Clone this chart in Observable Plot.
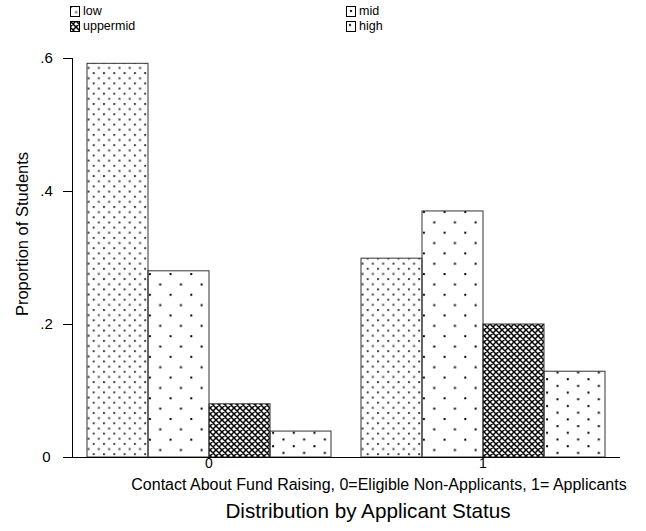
<!DOCTYPE html>
<html><head><meta charset="utf-8">
<script src="https://cdn.jsdelivr.net/npm/d3@7"></script>
<script src="https://cdn.jsdelivr.net/npm/@observablehq/plot@0.6"></script>
<style>
body{margin:0;background:#fff;}
#wrap{position:relative;width:646px;height:531px;font-family:"Liberation Sans",Arial,sans-serif;color:#000;background:#fff;overflow:hidden;}
.ov{position:absolute;white-space:nowrap;line-height:1;}
.leg{position:absolute;display:flex;align-items:center;font-size:12.5px;line-height:12px;height:12px;}
.leg svg{margin-right:3px;}
</style></head><body>
<svg width="0" height="0" style="position:absolute">
 <defs>
  <pattern id="pat-low" patternUnits="userSpaceOnUse" width="10.3" height="10.3">
   <rect x="0" y="0" width="2" height="2" fill="#444"/>
   <rect x="5.15" y="5.15" width="2" height="2" fill="#444"/>
  </pattern>
  <pattern id="pat-mid" patternUnits="userSpaceOnUse" width="20.7" height="20.7">
   <rect x="4" y="4" width="2" height="2" fill="#000"/>
   <rect x="14.35" y="14.35" width="2" height="2" fill="#000"/>
  </pattern>
  <pattern id="pat-uppermid" patternUnits="userSpaceOnUse" width="6" height="6">
   <path d="M0,0L6,6M6,0L0,6M-1,5L1,7M5,-1L7,1M-1,1L1,-1M5,7L7,5" stroke="#000" stroke-width="1.5"/>
  </pattern>
  <pattern id="pat-high" patternUnits="userSpaceOnUse" width="20.7" height="13.4">
   <rect x="3" y="3" width="2" height="2" fill="#000"/>
   <rect x="13.35" y="9.7" width="2" height="2" fill="#000"/>
  </pattern>
 </defs>
</svg>
<div id="wrap"></div>
<script>
// ---- data ----
const groups = ["0", "1"];
const levels = ["low", "mid", "uppermid", "high"];
const valuesGroup0 = [0.592, 0.280, 0.080, 0.039];
const valuesGroup1 = [0.299, 0.370, 0.200, 0.129];
const yTicks = [0, 0.2, 0.4, 0.6];
const yTickLabels = ["0", ".2", ".4", ".6"];
const xTitle = "Contact About Fund Raising, 0=Eligible Non-Applicants, 1= Applicants";
const yTitle = "Proportion of Students";
const chartTitle = "Distribution by Applicant Status";
const legendLabels = ["low", "mid", "uppermid", "high"];

const rows = [];
levels.forEach((lv, i) => {
  rows.push({group: groups[0], level: lv, value: valuesGroup0[i]});
  rows.push({group: groups[1], level: lv, value: valuesGroup1[i]});
});
const patternUrl = lv => `url(#pat-${lv})`;

const chart = Plot.plot({
  width: 646,
  height: 531,
  marginLeft: 72,
  marginRight: 12,
  marginTop: 58,
  marginBottom: 74,
  style: {fontFamily: '"Liberation Sans", Arial, sans-serif', color: "#000", background: "#fff", overflow: "visible"},
  fx: {domain: groups, paddingInner: 0.00364, paddingOuter: 0.02364, align: 0, label: null},
  x: {domain: levels, paddingInner: 0, paddingOuter: 0.2276, axis: null},
  y: {domain: [0, 0.6]},
  color: {domain: levels, range: levels.map(patternUrl)},
  marks: [
    Plot.barY(rows, {fx: "group", x: "level", y: "value", fill: "level", stroke: "#333", strokeWidth: 1}),
    Plot.axisY(yTicks, {
      tickFormat: d => yTickLabels[yTicks.indexOf(d)],
      tickSize: 9, tickPadding: 17, textAnchor: "middle", fontSize: 15, fill: "#000", label: null
    }),
    Plot.axisFx({anchor: "bottom", tickSize: 0, tickPadding: 1, fontSize: 14, fill: "#000", label: null}),
    Plot.frame({anchor: "bottom", facet: "super", stroke: "#000"}),
    Plot.frame({anchor: "left", facet: "super", stroke: "#000"})
  ]
});

const wrap = document.getElementById("wrap");
chart.style.position = "absolute";
chart.style.left = "0px";
chart.style.top = "0px";
wrap.appendChild(chart);

// legend
const legPos = [
  {left: 70, top: 5}, {left: 346, top: 5},
  {left: 70, top: 20}, {left: 346, top: 20}
];
legendLabels.forEach((lv, i) => {
  const d = document.createElement("div");
  d.className = "leg";
  d.style.left = legPos[i].left + "px";
  d.style.top = legPos[i].top + "px";
  d.innerHTML = `<svg width="10" height="11"><rect x="0.5" y="0.5" width="9" height="10" fill="${patternUrl(lv)}" stroke="#000"/></svg><span>${lv}</span>`;
  wrap.appendChild(d);
});

// titles
const xt = document.createElement("div");
xt.className = "ov";
xt.style.cssText = "left:379px;top:477px;transform:translateX(-50%);font-size:16px;";
xt.textContent = xTitle;
wrap.appendChild(xt);

const tt = document.createElement("div");
tt.className = "ov";
tt.style.cssText = "left:368px;top:501px;transform:translateX(-50%);font-size:20.7px;";
tt.textContent = chartTitle;
wrap.appendChild(tt);

const yt = document.createElement("div");
yt.className = "ov";
yt.style.cssText = "left:22px;top:234px;transform:translate(-50%,-50%) rotate(-90deg);font-size:16.5px;";
yt.textContent = yTitle;
wrap.appendChild(yt);
</script>
</body></html>
